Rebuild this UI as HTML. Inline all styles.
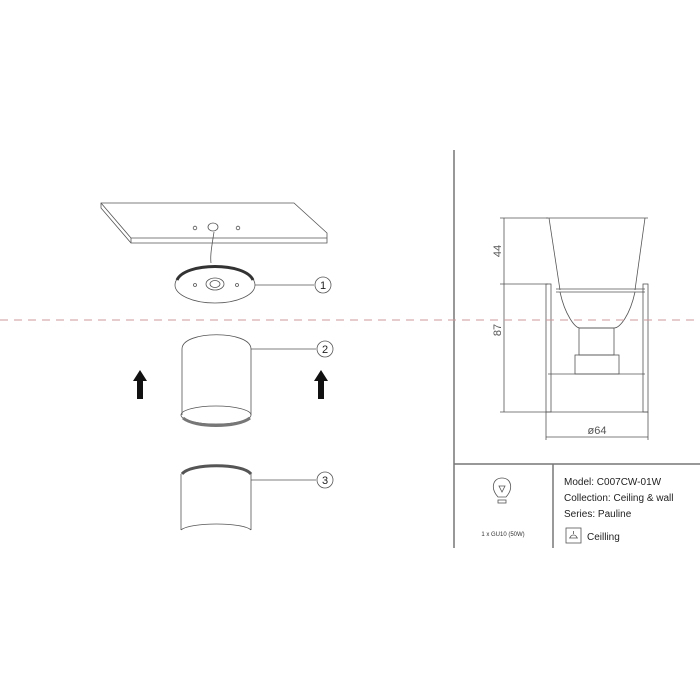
<!DOCTYPE html>
<html><head><style>
html,body{margin:0;padding:0;background:#fff;}
svg{display:block;font-family:"Liberation Sans",sans-serif;}
</style></head><body>
<svg width="700" height="700" viewBox="0 0 700 700" xmlns="http://www.w3.org/2000/svg">
<g fill="none" stroke="#555" stroke-width="0.8">
<!-- plate -->
<path d="M101,203 L294,203 L327,233 L327,243 L131,243 L101,208 Z"/>
<path d="M101,203 L131,238 L327,238 M131,238 L131,243"/>
<circle cx="195" cy="228" r="1.8"/><ellipse cx="213" cy="227" rx="5" ry="4"/><circle cx="238" cy="228" r="1.8"/>
<path d="M214,232 C212,245 210,255 211,263"/>
<!-- disc 1 -->
<ellipse cx="215" cy="285" rx="40" ry="18"/>
<path d="M177,280 C185,262 245,262 253,280" stroke="#333" stroke-width="3"/>
<ellipse cx="215" cy="284" rx="9" ry="6"/><ellipse cx="215" cy="284" rx="5" ry="3.5"/>
<circle cx="195" cy="285" r="1.5"/><circle cx="237" cy="285" r="1.5"/>
<line x1="255" y1="285" x2="314" y2="285"/>
<circle cx="323" cy="285" r="8"/>
<!-- cylinder 2 -->
<path d="M182,349 C182,330 251,330 251,349 L251,415 M182,349 L182,415"/>
<ellipse cx="216" cy="415" rx="35" ry="9"/>
<path d="M183,418 C195,428 237,428 250,418" stroke="#777" stroke-width="3"/>
<line x1="251" y1="349" x2="316" y2="349"/>
<circle cx="325" cy="349" r="8"/>
<!-- cylinder 3 -->
<path d="M182,474 C190,463 243,463 251,474" stroke="#555" stroke-width="3"/>
<path d="M181,474 L181,530 M251,474 L251,530 M181,530 C190,522 243,522 251,530"/>
<line x1="251" y1="480" x2="316" y2="480"/>
<circle cx="325" cy="480" r="8"/>
<!-- right drawing -->
<line x1="454" y1="150" x2="454" y2="548" stroke="#777" stroke-width="1.5"/>
<line x1="454" y1="464" x2="700" y2="464" stroke="#777" stroke-width="1.5"/>
<line x1="553" y1="464" x2="553" y2="548" stroke="#777" stroke-width="1.5"/>
<line x1="500" y1="218" x2="548" y2="218"/>
<line x1="500" y1="284" x2="548" y2="284"/>
<line x1="500" y1="412" x2="648" y2="412"/>
<line x1="504" y1="218" x2="504" y2="412"/>
<line x1="546" y1="412" x2="546" y2="440"/><line x1="648" y1="412" x2="648" y2="440"/>
<line x1="546" y1="437" x2="648" y2="437"/>
<path d="M546,218 L648,218 M549,218 L560,290 M645,218 L635,290"/>
<path d="M556,289 L645,289 M556,292 L645,292"/>
<path d="M560,292 C565,315 575,328 580,328 L614,328 C620,328 630,315 635,292"/>
<rect x="579" y="328" width="35" height="27"/>
<rect x="575" y="355" width="44" height="19"/>
<line x1="548" y1="374" x2="645" y2="374"/>
<rect x="546" y="284" width="5" height="128"/>
<rect x="643" y="284" width="5" height="128"/>
<!-- bulb -->
<path d="M498,497 C490,488 493,478 502,478 C511,478 514,488 506,497 Z"/>
<path d="M499,486 L505,486 L502,492 Z"/>
<rect x="498" y="500" width="8" height="3"/>
<rect x="566" y="528" width="15" height="15"/>
<path d="M569,538 L578,538 M570,538 C571,534 576,534 577,538 M573.5,531 L573.5,534"/>
</g>
<line x1="0" y1="320" x2="700" y2="320" stroke="#c99" stroke-width="1" stroke-dasharray="8,6"/>
<g font-size="11" fill="#222" text-anchor="middle">
<text x="323" y="289">1</text><text x="325" y="353">2</text><text x="325" y="484">3</text>
</g>
<g fill="#111">
<polygon points="140,370 133,381 137,381 137,399 143,399 143,381 147,381"/>
<polygon points="321,370 314,381 318,381 318,399 324,399 324,381 328,381"/>
</g>
<g font-size="11" fill="#555">
<text transform="translate(501,251) rotate(-90)" text-anchor="middle">44</text>
<text transform="translate(501,330) rotate(-90)" text-anchor="middle">87</text>
<text x="597" y="434" text-anchor="middle">ø64</text>
</g>
<g font-size="10" fill="#222">
<text x="564" y="485">Model: C007CW-01W</text>
<text x="564" y="501">Collection: Ceiling &amp; wall</text>
<text x="564" y="517">Series: Pauline</text>
<text x="587" y="540">Ceilling</text>
</g>
<text x="503" y="536" font-size="6" fill="#333" text-anchor="middle">1 x GU10 (50W)</text>
</svg>
</body></html>
